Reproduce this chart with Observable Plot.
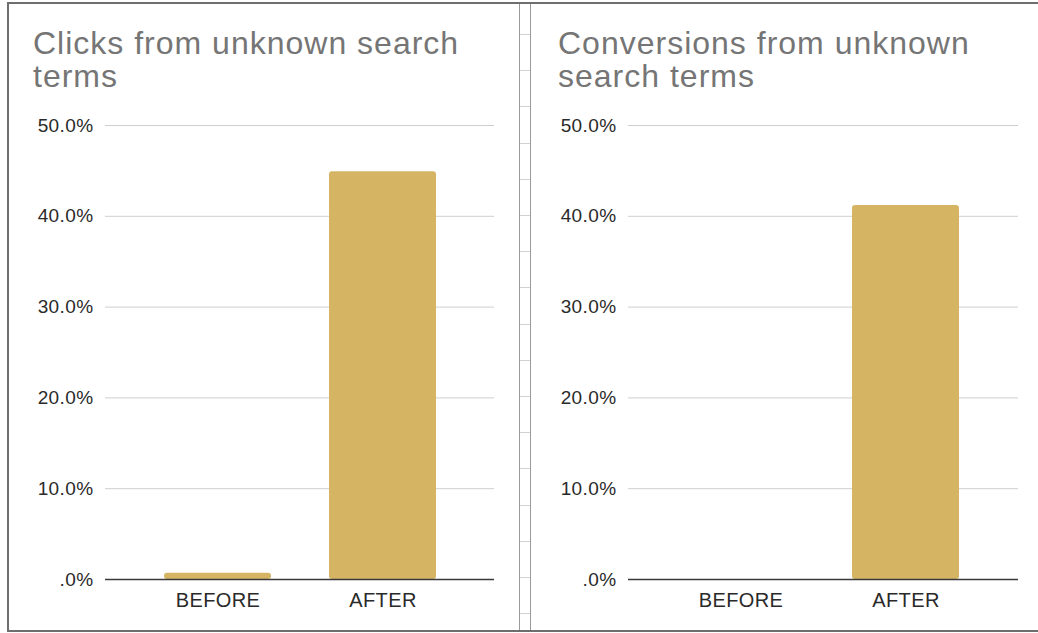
<!DOCTYPE html>
<html>
<head>
<meta charset="utf-8">
<script src="https://cdn.jsdelivr.net/npm/d3@7"></script>
<script src="https://cdn.jsdelivr.net/npm/@observablehq/plot@0.6"></script>
<style>
  html, body { margin: 0; padding: 0; background: #fff; }
  body { width: 1038px; height: 633px; position: relative; overflow: hidden;
         font-family: "Liberation Sans", Arial, sans-serif; }
  .frame { position: absolute; left: 7px; top: 2px; width: 1040px; height: 626px;
           border-top: 2px solid #6e6e6e; border-left: 2px solid #6e6e6e; border-bottom: 2px solid #6e6e6e; }
  .divider { position: absolute; left: 519px; top: 4px; width: 10px; height: 626px;
             border-left: 1.5px solid #9a9a9a; border-right: 1.5px solid #9a9a9a;
             background: repeating-linear-gradient(to bottom, transparent 0px, transparent 30px, #d2d2d2 30px, #d2d2d2 31px, transparent 31px, transparent 36.2px); }
  .panel { position: absolute; top: 0; height: 633px; }
  .title { position: absolute; top: 27px; width: 470px; font-size: 32px; line-height: 33px;
           letter-spacing: 1px; color: #757575; }
  .chart { position: absolute; top: 100px; left: 0; }
  .chart svg { max-width: none; overflow: visible; }
</style>
</head>
<body>
<div class="frame"></div>
<div class="divider"></div>
<div id="left" class="panel" style="left:8px; width:512px"><div class="title" style="left:25px"></div><div class="chart" style="width:512px"></div></div>
<div id="right" class="panel" style="left:531px; width:499px"><div class="title" style="left:27px"></div><div class="chart" style="width:499px"></div></div>
<script>
// Share of clicks / conversions coming from search terms not seen before
const periods = ["BEFORE", "AFTER"];
const clicksShare = [0.007, 0.449];
const conversionsShare = [0.0, 0.412];
const yTicks = [0, 0.1, 0.2, 0.3, 0.4, 0.5];
const titles = ["Clicks from unknown search terms", "Conversions from unknown search terms"];

// Sheets-style ".0%" number format: zero shows no leading digit
const pct = d => d === 0 ? ".0%" : (d * 100).toFixed(1) + "%";

function panel(values, width, marginRight) {
  const data = periods.map((p, i) => ({period: p, value: values[i]}));
  return Plot.plot({
    width,
    height: 520,
    marginTop: 25,
    marginBottom: 41,
    marginLeft: 97,
    marginRight,
    style: {fontFamily: "'Liberation Sans', Arial, sans-serif", color: "#2a2a2a", background: "transparent", maxWidth: "none", letterSpacing: "0.4px"},
    x: {domain: periods, padding: 0.353},
    y: {domain: [0, 0.5]},
    marks: [
      Plot.ruleY(yTicks.filter(d => d > 0), {stroke: "#cfcfcf", strokeWidth: 1}),
      Plot.barY(data, {x: "period", y: "value", fill: "#d5b464", rx: 3}),
      Plot.ruleY([0], {stroke: "#3a3a3a", strokeWidth: 1.5}),
      Plot.axisY({ticks: yTicks, tickFormat: pct, tickSize: 0, tickPadding: 12, label: null, fontSize: 19}),
      Plot.axisX({tickSize: 0, tickPadding: 13, label: null, fontSize: 20})
    ]
  });
}

const panels = [
  {id: "left", values: clicksShare, width: 512, marginRight: 26},
  {id: "right", values: conversionsShare, width: 499, marginRight: 12}
];
panels.forEach((p, i) => {
  const root = document.getElementById(p.id);
  root.querySelector(".title").textContent = titles[i];
  root.querySelector(".chart").append(panel(p.values, p.width, p.marginRight));
});
</script>
</body>
</html>
